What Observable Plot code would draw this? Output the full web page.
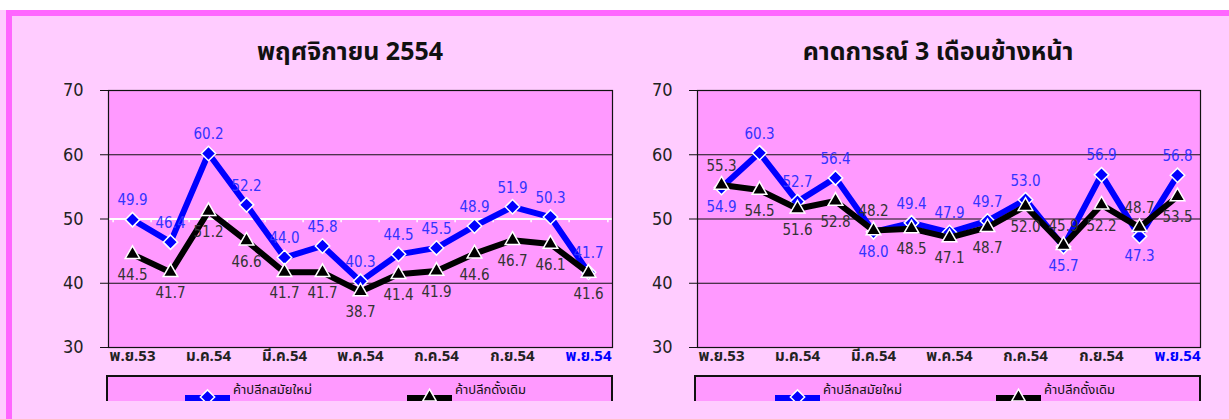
<!DOCTYPE html>
<html>
<head>
<meta charset="utf-8">
<script src="https://cdn.jsdelivr.net/npm/d3@7"></script>
<script src="https://cdn.jsdelivr.net/npm/@observablehq/plot@0.6"></script>
<style>
  html, body { margin: 0; padding: 0; }
  body { width: 1229px; height: 419px; background: #ffccff; position: relative; overflow: hidden;
         font-family: Tahoma, "Noto Sans Thai", "DejaVu Sans Condensed", "DejaVu Sans", sans-serif; }
  #topwhite { position: absolute; left: 0; top: 0; width: 1229px; height: 10px; background: #fff; }
  #topbar { position: absolute; left: 6px; top: 10px; width: 1223px; height: 6px; background: #ff66ff; }
  #leftbar { position: absolute; left: 6px; top: 10px; width: 6px; height: 409px; background: #ff66ff; }
  .panel { position: absolute; top: 0; }
  .title { position: absolute; top: 33px; font-size: 25px; font-weight: bold; color: #111; text-align: center; }
  .legend { position: absolute; top: 375px; height: 26px; box-sizing: border-box; border: 2px solid #111;
            border-bottom: none; background: #ff99ff; overflow: hidden; }
</style>
</head>
<body>
<div id="topwhite"></div>
<div id="topbar"></div>
<div id="leftbar"></div>
<div id="root"></div>
<script>
// ---- data ----
const months = ["พ.ย.53","ธ.ค.53","ม.ค.54","ก.พ.54","มี.ค.54","เม.ย.54","พ.ค.54","มิ.ย.54","ก.ค.54","ส.ค.54","ก.ย.54","ต.ค.54","พ.ย.54"];
const tickLabels = ["พ.ย.53","ม.ค.54","มี.ค.54","พ.ค.54","ก.ค.54","ก.ย.54","พ.ย.54"];
const yTicks = [30, 40, 50, 60, 70];
const seriesNames = ["ค้าปลีกสมัยใหม่", "ค้าปลีกดั้งเดิม"];
const titles = ["พฤศจิกายน 2554", "คาดการณ์ 3 เดือนข้างหน้า"];
// Panel 1: current month
const modernNow = [49.9, 46.4, 60.2, 52.2, 44.0, 45.8, 40.3, 44.5, 45.5, 48.9, 51.9, 50.3, 41.7];
const traditionalNow = [44.5, 41.7, 51.2, 46.6, 41.7, 41.7, 38.7, 41.4, 41.9, 44.6, 46.7, 46.1, 41.6];
// Panel 2: 3-month expectation
const modernExp = [54.9, 60.3, 52.7, 56.4, 48.0, 49.4, 47.9, 49.7, 53.0, 45.7, 56.9, 47.3, 56.8];
const traditionalExp = [55.3, 54.5, 51.6, 52.8, 48.2, 48.5, 47.1, 48.7, 52.0, 45.9, 52.2, 48.7, 53.5];

const BLUE = "#0000ff", LABEL_BLUE = "#3333ff", PLOT_BG = "#ff99ff";
const FONT = 'Tahoma, "Noto Sans Thai", "DejaVu Sans Condensed", "DejaVu Sans", sans-serif';
const NUMFONT = '"DejaVu Sans Condensed", "DejaVu Sans", sans-serif';

function makePanel(modern, trad, cfg) {
  const rows = months.map((m, i) => ({m, a: modern[i], b: trad[i]}));
  const bw = (cfg.width - cfg.marginLeft - cfg.marginRight) / months.length;
  const last = tickLabels[tickLabels.length - 1];
  const aUp = rows.filter(d => d.a >= d.b), aDown = rows.filter(d => d.a < d.b);
  const bUp = rows.filter(d => d.b > d.a), bDown = rows.filter(d => d.b <= d.a);
  const fmt = v => v.toFixed(1);
  return Plot.plot({
    width: cfg.width, height: 380,
    marginTop: 90, marginBottom: 33, marginLeft: cfg.marginLeft, marginRight: cfg.marginRight,
    style: {background: "transparent", fontFamily: NUMFONT, overflow: "visible"},
    x: {type: "band", domain: months, padding: 0, axis: null},
    y: {domain: [30, 70], axis: null},
    marks: [
      Plot.frame({fill: PLOT_BG, stroke: null}),
      Plot.ruleY([40, 60], {stroke: "#111", strokeWidth: 1.2}),
      Plot.ruleY([50], {stroke: cfg.whiteMid ? "white" : "#111", strokeWidth: cfg.whiteMid ? 2 : 1.2}),
      cfg.whiteMid ? Plot.ruleX(months, {x: d => d, y1: 50, y2: 49.4, stroke: "white", strokeWidth: 1.5, dx: -bw / 2}) : null,
      cfg.whiteMid ? Plot.ruleX([months[months.length - 1]], {x: d => d, y1: 50, y2: 49.4, stroke: "white", strokeWidth: 1.5, dx: bw / 2}) : null,
      Plot.axisY({ticks: yTicks, tickSize: 8, tickPadding: 17, fontSize: 18, color: "#222", stroke: "#111"}),
      Plot.line(rows, {x: "m", y: "a", stroke: BLUE, strokeWidth: 6}),
      Plot.dot(rows, {x: "m", y: "a", symbol: "diamond2", r: 6.5, fill: BLUE, stroke: "white", strokeWidth: 1.5}),
      Plot.line(rows, {x: "m", y: "b", stroke: "black", strokeWidth: 6}),
      Plot.dot(rows, {x: "m", y: "b", symbol: "triangle2", r: 7, fill: "black", stroke: "white", strokeWidth: 1.5}),
      Plot.text(aUp, {x: "m", y: "a", text: d => fmt(d.a), dy: -19, fill: LABEL_BLUE, fontSize: 15}),
      Plot.text(aDown, {x: "m", y: "a", text: d => fmt(d.a), dy: 20, fill: LABEL_BLUE, fontSize: 15}),
      Plot.text(bUp, {x: "m", y: "b", text: d => fmt(d.b), dy: -19, fill: "#333", fontSize: 15}),
      Plot.text(bDown, {x: "m", y: "b", text: d => fmt(d.b), dy: 21, fill: "#333", fontSize: 15}),
      Plot.frame({stroke: "#111", strokeWidth: 1.2}),
      Plot.text(tickLabels, {x: d => d, frameAnchor: "bottom", lineAnchor: "top", dy: 3,
        fill: d => d === last ? BLUE : "#222", fontWeight: "bold", fontSize: 15, fontFamily: FONT})
    ]
  });
}

function makeLegend(left, width, offsets) {
  const div = document.createElement("div");
  div.className = "legend";
  div.style.left = left + "px";
  div.style.width = width + "px";
  const svg = d3.create("svg").attr("width", width).attr("height", 30).style("display", "block");
  const items = [
    {name: seriesNames[0], color: BLUE, symbol: d3.symbolDiamond2},
    {name: seriesNames[1], color: "black", symbol: d3.symbolTriangle2}
  ];
  items.forEach((it, i) => {
    const x0 = offsets[i];
    const g = svg.append("g").attr("transform", `translate(${x0},0)`);
    g.append("line").attr("x1", 0).attr("x2", 45).attr("y1", 21).attr("y2", 21)
      .attr("stroke", it.color).attr("stroke-width", 6);
    g.append("path").attr("d", d3.symbol(it.symbol, 130)()).attr("transform", "translate(22.5,20)")
      .attr("fill", it.color).attr("stroke", "white").attr("stroke-width", 1.5);
    g.append("text").attr("x", 48).attr("y", 16.5).attr("font-size", 13).attr("fill", "#111")
      .attr("font-family", FONT).text(it.name);
  });
  div.appendChild(svg.node());
  return div;
}

const root = document.getElementById("root");
const panels = [
  {left: 0, width: 615, marginLeft: 108, marginRight: 3, whiteMid: true, modern: modernNow, trad: traditionalNow,
   titleLeft: 50, titleWidth: 600, legendLeft: 106, legendWidth: 507, legendOffsets: [77, 299]},
  {left: 615, width: 614, marginLeft: 82, marginRight: 29, whiteMid: false, modern: modernExp, trad: traditionalExp,
   titleLeft: 638, titleWidth: 600, legendLeft: 694, legendWidth: 507, legendOffsets: [79, 300]}
];
panels.forEach((p, i) => {
  const holder = document.createElement("div");
  holder.className = "panel";
  holder.style.left = p.left + "px";
  holder.appendChild(makePanel(p.modern, p.trad, p));
  root.appendChild(holder);
  const t = document.createElement("div");
  t.className = "title";
  t.style.left = p.titleLeft + "px";
  t.style.width = p.titleWidth + "px";
  t.textContent = titles[i];
  root.appendChild(t);
  root.appendChild(makeLegend(p.legendLeft, p.legendWidth, p.legendOffsets));
});
</script>
</body>
</html>
